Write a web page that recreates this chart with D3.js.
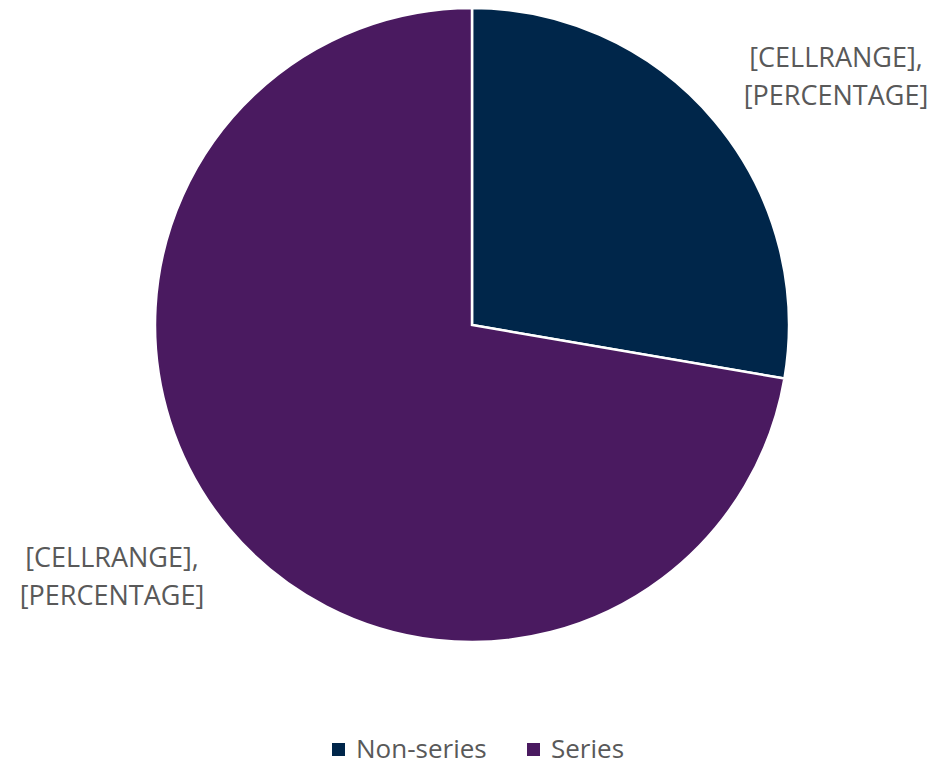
<!DOCTYPE html>
<html>
<head>
<meta charset="utf-8">
<script src="https://cdn.jsdelivr.net/npm/d3@7"></script>
<style>
  body { margin: 0; background: #fff; }
  svg text { font-family: "Open Sans", "Noto Sans", sans-serif; fill: #595959; }
</style>
</head>
<body>
<div id="chart"></div>
<script>
// chart data
const categories = ["Non-series", "Series"];
const values = [27.7, 72.3];
const colors = ["#00264A", "#4A1A60"];
const labelLines = [["[CELLRANGE],", "[PERCENTAGE]"], ["[CELLRANGE],", "[PERCENTAGE]"]];

const width = 933;
const height = 767;
const cx = 472, cy = 325, radius = 317;

const svg = d3.select("#chart").append("svg")
  .attr("width", width)
  .attr("height", height);

const pie = d3.pie().sort(null).value(d => d.value);
const arc = d3.arc().innerRadius(0).outerRadius(radius);

const data = categories.map((c, i) => ({ name: c, value: values[i], color: colors[i] }));

const g = svg.append("g").attr("transform", `translate(${cx},${cy})`);

g.selectAll("path")
  .data(pie(data))
  .enter().append("path")
  .attr("d", arc)
  .attr("fill", d => d.data.color)
  .attr("stroke", "#fff")
  .attr("stroke-width", 2.5);

// data labels, placed outside the pie like Excel's best fit
const labelPos = [[364, -258], [-360, 242]];
labelLines.forEach((lines, i) => {
  const t = g.append("text")
    .attr("text-anchor", "middle")
    .attr("font-size", "27px")
    .attr("transform", `translate(${labelPos[i][0]},${labelPos[i][1]})`);
  lines.forEach((line, j) => {
    t.append("tspan").attr("x", 0).attr("dy", j === 0 ? 0 : "1.4em").text(line);
  });
});

// legend
const legend = svg.append("g").attr("transform", "translate(332,749)");
const legendX = [0, 195];
categories.forEach((c, i) => {
  const lg = legend.append("g").attr("transform", `translate(${legendX[i]},0)`);
  lg.append("rect")
    .attr("y", -6)
    .attr("width", 13)
    .attr("height", 13)
    .attr("fill", colors[i]);
  lg.append("text")
    .attr("x", 24)
    .attr("y", 9)
    .attr("font-size", "26px")
    .text(c);
});
</script>
</body>
</html>
